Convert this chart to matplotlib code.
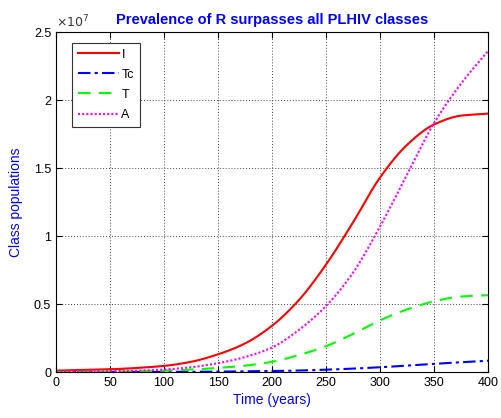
import matplotlib
matplotlib.use("Agg")
import matplotlib.pyplot as plt
import numpy as np

plt.rcParams['font.family'] = ['Liberation Sans', 'DejaVu Sans']

t = [0, 25, 50, 75, 100, 125, 150, 175, 200, 225, 250, 275, 300, 325, 350, 375, 400]
I_vals = [0.01, 0.015, 0.02, 0.03, 0.045, 0.075, 0.13, 0.21, 0.34, 0.53, 0.79, 1.10, 1.43, 1.67, 1.82, 1.885, 1.90]
Tc_vals = [0.0, 0.0, 0.0, 0.0005, 0.001, 0.002, 0.003, 0.005, 0.007, 0.011, 0.017, 0.025, 0.035, 0.047, 0.06, 0.072, 0.083]
T_vals = [0.0, 0.001, 0.003, 0.006, 0.01, 0.018, 0.03, 0.047, 0.075, 0.125, 0.19, 0.28, 0.38, 0.46, 0.52, 0.555, 0.565]
A_vals = [0.0, 0.003, 0.006, 0.01, 0.018, 0.035, 0.065, 0.11, 0.18, 0.31, 0.485, 0.73, 1.07, 1.45, 1.83, 2.12, 2.36]
scale = 1e7

xt = np.array(t, dtype=float)
tf = np.linspace(0, 400, 401)

def smooth(y):
    # monotone cubic (PCHIP-like) interpolation for a smooth curve
    x = xt; y = np.array(y, dtype=float) * scale
    h = np.diff(x); d = np.diff(y) / h
    m = np.zeros_like(y)
    for k in range(1, len(y) - 1):
        if d[k-1] * d[k] > 0:
            w1 = 2*h[k] + h[k-1]; w2 = h[k] + 2*h[k-1]
            m[k] = (w1 + w2) / (w1/d[k-1] + w2/d[k])
    m[0] = d[0]; m[-1] = d[-1]
    out = np.empty_like(tf)
    for i, xv in enumerate(tf):
        k = min(np.searchsorted(x, xv, side='right') - 1, len(x) - 2)
        hk = h[k]; s = (xv - x[k]) / hk
        h00 = 2*s**3 - 3*s**2 + 1; h10 = s**3 - 2*s**2 + s
        h01 = -2*s**3 + 3*s**2; h11 = s**3 - s**2
        out[i] = h00*y[k] + h10*hk*m[k] + h01*y[k+1] + h11*hk*m[k+1]
    return out / scale

fig = plt.figure(figsize=(5.02, 4.18), dpi=100)
ax = fig.add_axes([0.1116, 0.110, 0.8605, 0.8134])

ax.plot(tf, smooth(I_vals), color='red', lw=1.5, ls='-', label='I')
ax.plot(tf, smooth(Tc_vals), color='blue', lw=1.5, ls=(0, (6, 2, 1.5, 2)), label='Tc')
ax.plot(tf, smooth(T_vals), color='#00ff00', lw=1.5, ls=(0, (6, 4)), label='T')
ax.plot(tf, smooth(A_vals), color='magenta', lw=1.5, ls=(0, (1, 1)), label='A')

ax.set_xlim(0, 400)
ax.set_ylim(0, 2.5)
ax.set_xticks(range(0, 401, 50))
ax.set_yticks([0, 0.5, 1, 1.5, 2, 2.5])
ax.set_yticklabels(['0', '0.5', '1', '1.5', '2', '2.5'])
ax.grid(True, ls=(0, (1, 2)), color='#444444', lw=0.7)
ax.tick_params(direction='in', top=True, right=True, labelsize=9, length=4, width=0.8, colors='black')
for sp in ax.spines.values():
    sp.set_linewidth(0.8)

ax.set_xlabel('Time (years)', color='blue', fontsize=10, labelpad=3)
ax.set_ylabel('Class populations', color='blue', fontsize=10, labelpad=8)
ax.set_title('Prevalence of R surpasses all PLHIV classes', color='blue', fontsize=10.5, fontweight='bold', pad=6)
ax.text(0.0, 1.005, r'$\times10^{7}$', transform=ax.transAxes, fontsize=9, color='#333333', va='bottom', ha='left')

leg = ax.legend(loc='upper left', bbox_to_anchor=(0.037, 0.968), borderaxespad=0, fontsize=9,
                handlelength=3.3, handletextpad=0.2, borderpad=0.45, labelspacing=0.65,
                fancybox=False, framealpha=1, edgecolor='#333333')
leg.get_frame().set_linewidth(0.8)

fig.savefig('out.png', dpi=100)
